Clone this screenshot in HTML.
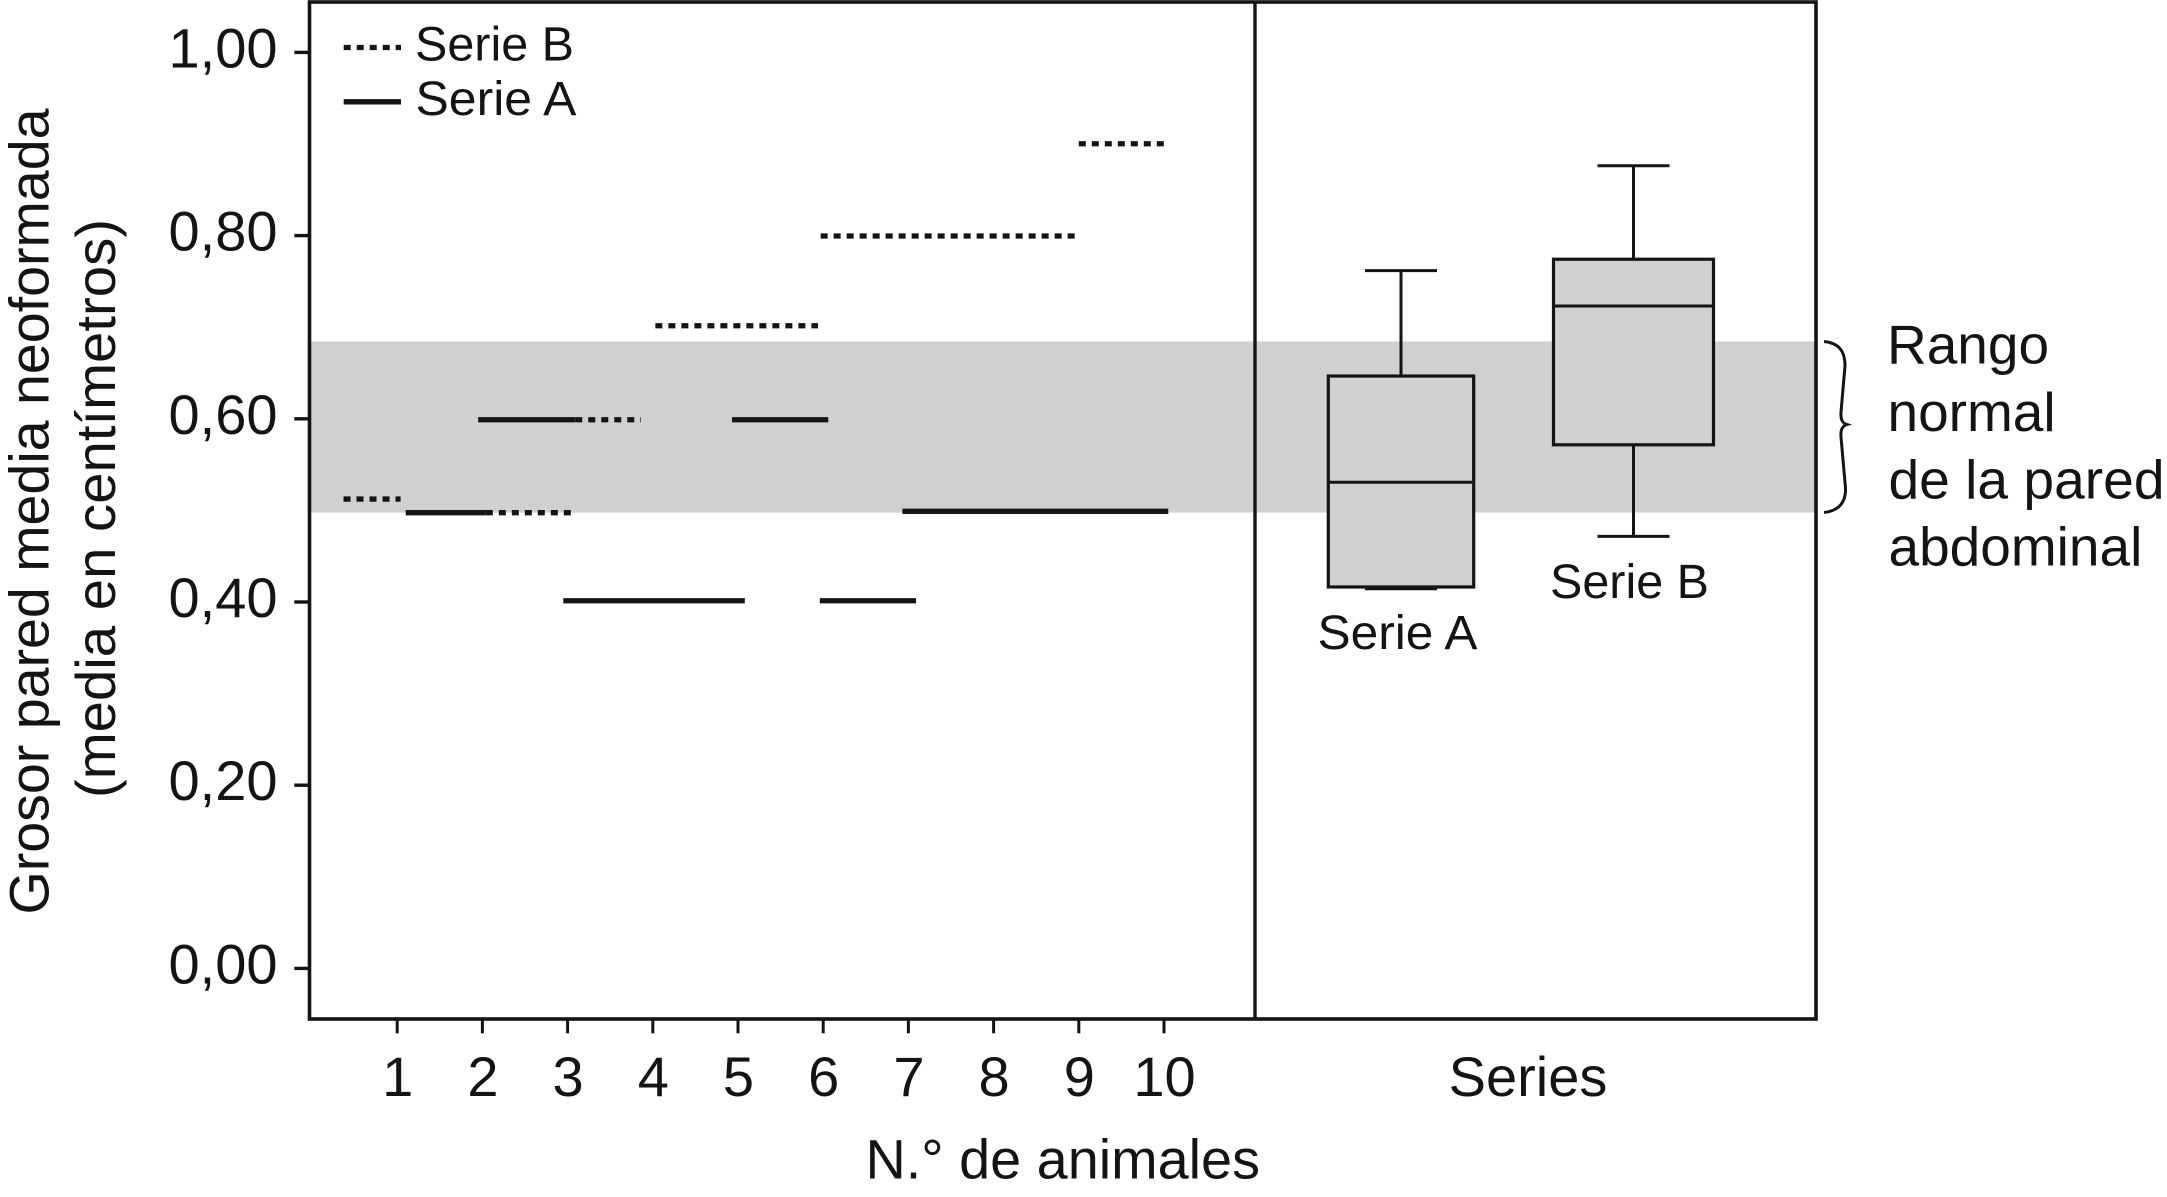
<!DOCTYPE html>
<html lang="es">
<head>
<meta charset="utf-8">
<title>Grosor pared media neoformada</title>
<style>
html,body{margin:0;padding:0;background:#fff;}
svg{display:block;}
text{font-family:"Liberation Sans",Arial,sans-serif;fill:#141414;}
</style>
</head>
<body>
<svg id="chart" xmlns="http://www.w3.org/2000/svg" width="2167" height="1197" viewBox="0 0 2167 1197">
  <g id="band-layer"></g>
  <g id="marks-layer"></g>
  <rect x="309.5" y="2" width="1506.5" height="1017" fill="none" stroke="#141414" stroke-width="3.6"/>
  <line x1="1255" y1="2" x2="1255" y2="1019" stroke="#141414" stroke-width="3.4"/>
  <g id="axis-layer"></g>

  <text transform="translate(48.3,914.5) rotate(-90)" font-size="56" textLength="806" lengthAdjust="spacingAndGlyphs">Grosor pared media neoformada</text>
  <text transform="translate(115,798) rotate(-90)" font-size="56" textLength="579" lengthAdjust="spacingAndGlyphs">(media en centímetros)</text>
  <text x="865.5" y="1178.5" font-size="56" textLength="394.5" lengthAdjust="spacingAndGlyphs">N.° de animales</text>
  <text x="1528" y="1096" font-size="56" text-anchor="middle">Series</text>

  <g>
    <line x1="343.7" y1="47.5" x2="401" y2="47.5" stroke="#141414" stroke-width="5.3" stroke-dasharray="7 6"/>
    <text x="415" y="60.5" font-size="48" textLength="159" lengthAdjust="spacingAndGlyphs">Serie B</text>
    <line x1="343.7" y1="101.8" x2="401" y2="101.8" stroke="#141414" stroke-width="5.3"/>
    <text x="415.5" y="115" font-size="48" textLength="161" lengthAdjust="spacingAndGlyphs">Serie A</text>
  </g>

  <text x="1317.5" y="648.8" font-size="48" textLength="160" lengthAdjust="spacingAndGlyphs">Serie A</text>
  <text x="1550" y="598" font-size="48" textLength="159" lengthAdjust="spacingAndGlyphs">Serie B</text>

  <path d="M1824,341.5 C1838,343 1845,350 1845,366 L1841,412 C1840.5,419 1842,423 1847,424.5 C1842,426 1840.5,430 1841,437 L1845.5,488 C1846,503 1838,511 1824,512.5" fill="none" stroke="#141414" stroke-width="3"/>

  <g>
    <text x="1887" y="363.5" font-size="55">Rango</text>
    <text x="1887.5" y="431" font-size="55">normal</text>
    <text x="1888.5" y="498.5" font-size="55" textLength="276" lengthAdjust="spacingAndGlyphs">de la pared</text>
    <text x="1888.5" y="565.5" font-size="55">abdominal</text>
  </g>
</svg>
<script>
// Axis tick data
const yTickValues = [0, 0.2, 0.4, 0.6, 0.8, 1.0];
const yTickLabels = ["0,00", "0,20", "0,40", "0,60", "0,80", "1,00"];
const animalNumbers = [1, 2, 3, 4, 5, 6, 7, 8, 9, 10];

// Shaded normal range
const normalRangeLow = 0.4976;
const normalRangeHigh = 0.6844;

// Serie A segments (animal position start / end, thickness value)
const serieAStart = [1.10, 1.95, 2.95, 4.93, 5.96, 6.93];
const serieAEnd = [2.04, 3.09, 5.08, 6.06, 7.09, 10.05];
const serieAValues = [0.4975, 0.599, 0.4014, 0.599, 0.4014, 0.499];

// Serie B segments
const serieBStart = [0.37, 2.04, 3.09, 4.03, 5.97, 9.00];
const serieBEnd = [1.04, 3.04, 3.86, 5.94, 8.96, 10.01];
const serieBValues = [0.5124, 0.4975, 0.599, 0.7016, 0.7996, 0.9003];

// Box plots
const boxNames = ["serie-a", "serie-b"];
const boxCenters = [0, 1];
const whiskerHigh = [0.7617, 0.8762];
const quartile3 = [0.6467, 0.7742];
const medians = [0.5307, 0.7232];
const quartile1 = [0.4164, 0.5716];
const whiskerLow = [0.4145, 0.4717];

const SVGNS = "http://www.w3.org/2000/svg";
const yScale = function (v) { return 968.4 - 916 * v; };
const xScale = function (n) { return 397.2 + 85.2 * (n - 1); };
const boxScale = function (i) { return 1401 + 232.5 * i; };
const plotLeft = 309.5;
const plotRight = 1816;
const plotBottom = 1019;

const bandLayer = document.getElementById("band-layer");
const marksLayer = document.getElementById("marks-layer");
const axisLayer = document.getElementById("axis-layer");

function make(tag, parent) {
  const el = document.createElementNS(SVGNS, tag);
  parent.appendChild(el);
  return el;
}
function setLine(el, x1, y1, x2, y2, width) {
  el.setAttribute("x1", x1);
  el.setAttribute("y1", y1);
  el.setAttribute("x2", x2);
  el.setAttribute("y2", y2);
  el.setAttribute("stroke", "#141414");
  el.setAttribute("stroke-width", width);
}

// Normal range band
const band = make("rect", bandLayer);


band.setAttribute("x", plotLeft);
band.setAttribute("y", yScale(normalRangeHigh));
band.setAttribute("width", plotRight - plotLeft);
band.setAttribute("height", yScale(normalRangeLow) - yScale(normalRangeHigh));
band.setAttribute("fill", "#d0d0d0");

// Y axis
yTickValues.forEach(function (v, i) {
  const tick = make("line", axisLayer);
  
  
  setLine(tick, 294.3, yScale(v), plotLeft, yScale(v), 3.4);
  const label = make("text", axisLayer);
  
  
  label.setAttribute("x", 277.5);
  label.setAttribute("y", yScale(v) + 15);
  label.setAttribute("font-size", "56");
  label.setAttribute("text-anchor", "end");
  label.textContent = yTickLabels[i];
});

// X axis
animalNumbers.forEach(function (n) {
  const tick = make("line", axisLayer);
  
  
  setLine(tick, xScale(n), plotBottom, xScale(n), 1033.3, 3);
  const label = make("text", axisLayer);
  
  
  label.setAttribute("x", xScale(n) + 0.5);
  label.setAttribute("y", 1096);
  label.setAttribute("font-size", "56");
  label.setAttribute("text-anchor", "middle");
  label.textContent = String(n);
});

// Serie A solid segments
serieAValues.forEach(function (v, i) {
  const seg = make("line", marksLayer);
  
  
  setLine(seg, xScale(serieAStart[i]), yScale(v), xScale(serieAEnd[i]), yScale(v), 5.3);
});

// Serie B dotted segments
serieBValues.forEach(function (v, i) {
  const seg = make("line", marksLayer);
  
  
  setLine(seg, xScale(serieBStart[i]), yScale(v), xScale(serieBEnd[i]), yScale(v), 5.3);
  seg.setAttribute("stroke-dasharray", "7 6");
});

// Box plots
boxNames.forEach(function (name, i) {
  const c = boxScale(boxCenters[i]);
  const halfBox = i === 0 ? 72.7 : 80;
  const halfCap = 36;

  const stemHigh = make("line", marksLayer);
  
  
  setLine(stemHigh, c, yScale(whiskerHigh[i]), c, yScale(quartile3[i]), 3);

  const stemLow = make("line", marksLayer);
  
  
  setLine(stemLow, c, yScale(quartile1[i]), c, yScale(whiskerLow[i]), 3);

  const capHigh = make("line", marksLayer);
  
  
  setLine(capHigh, c - halfCap, yScale(whiskerHigh[i]), c + halfCap, yScale(whiskerHigh[i]), 3);

  const capLow = make("line", marksLayer);
  
  
  setLine(capLow, c - halfCap, yScale(whiskerLow[i]), c + halfCap, yScale(whiskerLow[i]), 3);

  const box = make("rect", marksLayer);
  
  
  box.setAttribute("x", c - halfBox);
  box.setAttribute("y", yScale(quartile3[i]));
  box.setAttribute("width", halfBox * 2);
  box.setAttribute("height", yScale(quartile1[i]) - yScale(quartile3[i]));
  box.setAttribute("fill", "#d0d0d0");
  box.setAttribute("stroke", "#141414");
  box.setAttribute("stroke-width", "3.2");

  const median = make("line", marksLayer);
  
  
  setLine(median, c - halfBox, yScale(medians[i]), c + halfBox, yScale(medians[i]), 3);
});
</script>
</body>
</html>
